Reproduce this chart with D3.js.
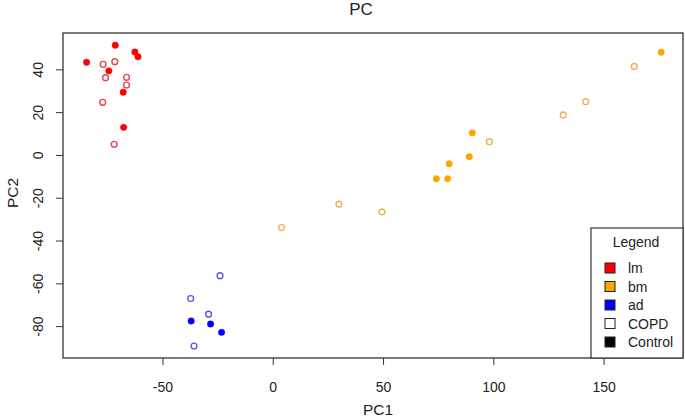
<!DOCTYPE html>
<html><head><meta charset="utf-8">
<script src="https://cdn.jsdelivr.net/npm/d3@7"></script>
<style>body{margin:0;background:#fff}svg{display:block}text{font-family:"Liberation Sans",Arial,sans-serif;fill:#222}</style>
</head><body><div id="chart"></div>
<script>
const groups = ["lm","bm","ad"];
const groupColors = ["#ff0000","#ffa500","#0000ff"];
const openColors = ["#e8424f","#f0b050","#5a5ae0"];
const conditions = ["COPD","Control"];
// [PC1, PC2]
const lmCOPD = [[-76.9,42.4],[-71.6,43.6],[-75.8,36.1],[-66.3,36.3],[-66.3,32.7],[-77.1,24.6],[-71.9,5.0]];
const lmControl = [[-84.4,43.3],[-71.4,51.3],[-62.5,48.1],[-61.1,45.9],[-74.3,39.3],[-67.8,29.3],[-67.6,12.9]];
const bmCOPD = [[163.9,41.4],[141.9,24.9],[131.7,18.7],[98.2,6.2],[30.0,-23.0],[49.5,-26.6],[4.0,-33.9]];
const bmControl = [[176.1,48.0],[90.5,10.3],[89.1,-0.8],[80.0,-4.1],[74.2,-11.1],[79.3,-11.1]];
const adCOPD = [[-23.9,-56.4],[-37.2,-67.1],[-29.1,-74.4],[-35.7,-89.3]];
const adControl = [[-37.0,-77.6],[-28.2,-79.0],[-23.2,-82.9]];
const xTicks = [-50,0,50,100,150];
const yTicks = [-80,-60,-40,-20,0,20,40];
const legendLabels = ["lm","bm","ad","COPD","Control"];

const W=685,H=419;
const svg=d3.select("#chart").append("svg").attr("width",W).attr("height",H);
const L=63,R=683,T=33,B=358;
const x=d3.scaleLinear().domain([-95.1,186.0]).range([L,R]);
const y=d3.scaleLinear().domain([-94.9,57.0]).range([B,T]);

svg.append("text").attr("x",361).attr("y",15).attr("text-anchor","middle").attr("font-size",17).text("PC");

const ax=svg.append("g").attr("transform",`translate(0,${B})`).call(d3.axisBottom(x).tickValues(xTicks).tickSize(7).tickFormat(d=>String(d)));
const ay=svg.append("g").attr("transform",`translate(${L},0)`).call(d3.axisLeft(y).tickValues(yTicks).tickSize(7).tickFormat(d=>String(d)));
[ax,ay].forEach(a=>{a.select(".domain").remove();a.selectAll("line").attr("stroke","#333");a.selectAll("text").attr("font-size",14).attr("fill","#222").style("font-family","Liberation Sans, Arial, sans-serif");});
ax.selectAll(".tick text").attr("y",34).attr("dy",null);
ay.selectAll(".tick text").attr("x",null).attr("dy",null).attr("text-anchor","middle")
  .attr("transform","translate(-20,0) rotate(-90)");

svg.append("rect").attr("x",L).attr("y",T).attr("width",R-L).attr("height",B-T).attr("fill","none").attr("stroke","#333").attr("stroke-width",1.3);

svg.append("text").attr("x",378).attr("y",415).attr("text-anchor","middle").attr("font-size",15.5).text("PC1");
svg.append("text").attr("transform",`translate(18,193) rotate(-90)`).attr("text-anchor","middle").attr("font-size",15.5).text("PC2");

const sets=[[lmCOPD,0,false],[lmControl,0,true],[bmCOPD,1,false],[bmControl,1,true],[adCOPD,2,false],[adControl,2,true]];
sets.forEach(([data,g,filled])=>{
  svg.append("g").selectAll("circle").data(data).join("circle")
   .attr("cx",d=>x(d[0])).attr("cy",d=>y(d[1]))
   .attr("r",filled?3.2:2.9)
   .attr("fill",filled?groupColors[g]:"none")
   .attr("stroke",filled?groupColors[g]:openColors[g])
   .attr("stroke-width",filled?0.5:1.4);
});

// legend
const lg=svg.append("g");
lg.append("rect").attr("x",591).attr("y",228).attr("width",R-591).attr("height",B-228).attr("fill","#fff").attr("stroke","#333").attr("stroke-width",1.2);
lg.append("text").attr("x",636).attr("y",247).attr("text-anchor","middle").attr("font-size",14).text("Legend");
const fills=[...groupColors,"#fff","#000"];
legendLabels.forEach((lab,i)=>{
  const yy=268+i*18.5;
  lg.append("rect").attr("x",605).attr("y",yy-5).attr("width",10).attr("height",10).attr("fill",fills[i]).attr("stroke","#222").attr("stroke-width",1);
  lg.append("text").attr("x",628).attr("y",yy+5).attr("font-size",14).text(lab);
});
</script></body></html>
